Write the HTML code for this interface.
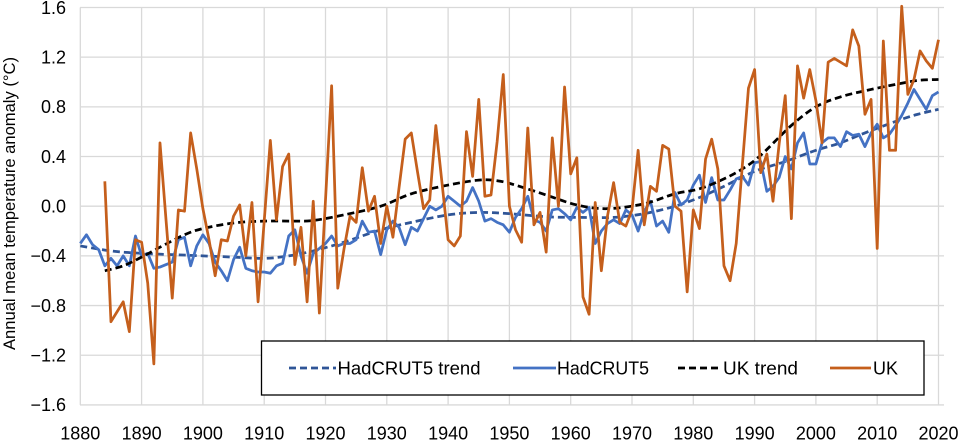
<!DOCTYPE html>
<html>
<head>
<meta charset="utf-8">
<style>
  html, body { margin: 0; padding: 0; background: #fff; }
  svg { display: block; }
  text { font-family: "Liberation Sans", Arial, sans-serif; fill: #000; }
</style>
</head>
<body>
<svg id="chart" width="960" height="440" viewBox="0 0 960 440" xmlns="http://www.w3.org/2000/svg">
  <rect x="0" y="0" width="960" height="440" fill="#fff"/>
  <g id="grid" stroke="#d9d9d9" stroke-width="1.3" fill="none"></g>
  <g id="series" fill="none"></g>

  <!-- Y tick labels -->
  <g font-size="18" text-anchor="end">
    <text x="66" y="13.8">1.6</text>
    <text x="66" y="63.5">1.2</text>
    <text x="66" y="113.1">0.8</text>
    <text x="66" y="162.8">0.4</text>
    <text x="66" y="212.5">0.0</text>
    <text x="66" y="262.2">−0.4</text>
    <text x="66" y="311.9">−0.8</text>
    <text x="66" y="361.5">−1.2</text>
    <text x="66" y="411.2">−1.6</text>
  </g>

  <!-- X tick labels -->
  <g font-size="18" text-anchor="middle">
    <text x="80.3" y="439.5">1880</text>
    <text x="141.6" y="439.5">1890</text>
    <text x="202.9" y="439.5">1900</text>
    <text x="264.2" y="439.5">1910</text>
    <text x="325.5" y="439.5">1920</text>
    <text x="386.8" y="439.5">1930</text>
    <text x="448.1" y="439.5">1940</text>
    <text x="509.4" y="439.5">1950</text>
    <text x="570.7" y="439.5">1960</text>
    <text x="632.0" y="439.5">1970</text>
    <text x="693.3" y="439.5">1980</text>
    <text x="754.6" y="439.5">1990</text>
    <text x="815.9" y="439.5">2000</text>
    <text x="877.2" y="439.5">2010</text>
    <text x="938.5" y="439.5">2020</text>
  </g>

  <!-- Y axis title -->
  <text font-size="16.5" text-anchor="middle" transform="translate(15,203.5) rotate(-90)" textLength="293" lengthAdjust="spacingAndGlyphs">Annual mean temperature anomaly (°C)</text>

  <!-- Legend -->
  <g id="legend">
    <rect x="261.5" y="341" width="662.5" height="54" fill="#fff" stroke="#000" stroke-width="1.3"/>
    <line x1="289" y1="368" x2="336" y2="368" stroke="#2f5597" stroke-width="2.75" stroke-dasharray="7,4"/>
    <text x="337.5" y="374.5" font-size="18.5" textLength="143" lengthAdjust="spacingAndGlyphs">HadCRUT5 trend</text>
    <line x1="513" y1="368" x2="556" y2="368" stroke="#4472c4" stroke-width="2.75"/>
    <text x="557" y="374.5" font-size="18.5" textLength="92" lengthAdjust="spacingAndGlyphs">HadCRUT5</text>
    <line x1="678" y1="368" x2="720" y2="368" stroke="#000" stroke-width="2.75" stroke-dasharray="7,4"/>
    <text x="723" y="374.5" font-size="18.5" textLength="75" lengthAdjust="spacingAndGlyphs">UK trend</text>
    <line x1="830" y1="368" x2="871" y2="368" stroke="#c55f1c" stroke-width="2.75"/>
    <text x="873" y="374.5" font-size="18.5" textLength="25" lengthAdjust="spacingAndGlyphs">UK</text>
  </g>
</svg>

<script>
(function(){
  var NS = "http://www.w3.org/2000/svg";
  var X0 = 80.3, DX = 6.13, Y0 = 206.2, SY = 124.2;
  function px(yr){ return X0 + (yr-1880)*DX; }
  function py(v){ return Y0 - v*SY; }

  var grid = document.getElementById('grid');
  for (var i=0;i<=8;i++){
    var v = 1.6 - i*0.4, y = py(v);
    var l = document.createElementNS(NS,'line');
    l.setAttribute('x1',80); l.setAttribute('x2',944);
    l.setAttribute('y1',y); l.setAttribute('y2',y);
    grid.appendChild(l);
  }
  for (var yr=1880; yr<=2020; yr+=10){
    var x = px(yr);
    var l2 = document.createElementNS(NS,'line');
    l2.setAttribute('x1',x); l2.setAttribute('x2',x);
    l2.setAttribute('y1',py(1.6)); l2.setAttribute('y2',py(-1.6));
    grid.appendChild(l2);
  }

  var had = [-0.30,-0.23,-0.31,-0.35,-0.48,-0.42,-0.48,-0.40,-0.48,-0.24,
    -0.40,-0.38,-0.50,-0.49,-0.47,-0.45,-0.27,-0.25,-0.48,-0.32,
    -0.23,-0.30,-0.45,-0.52,-0.60,-0.43,-0.33,-0.50,-0.52,-0.53,
    -0.53,-0.54,-0.48,-0.46,-0.24,-0.19,-0.40,-0.54,-0.38,-0.34,
    -0.30,-0.24,-0.32,-0.30,-0.30,-0.27,-0.12,-0.21,-0.20,-0.39,
    -0.19,-0.12,-0.17,-0.31,-0.17,-0.20,-0.10,0.00,-0.03,0.00,
    0.08,0.04,0.00,0.04,0.15,0.04,-0.12,-0.10,-0.13,-0.15,
    -0.21,-0.09,-0.02,0.08,-0.11,-0.13,-0.20,-0.03,-0.02,-0.06,
    -0.11,-0.01,-0.05,-0.01,-0.30,-0.20,-0.14,-0.11,-0.14,-0.03,
    -0.07,-0.20,-0.04,0.04,-0.16,-0.12,-0.21,0.11,0.01,0.05,
    0.17,0.25,0.03,0.23,0.05,0.05,0.13,0.22,0.24,0.17,
    0.35,0.36,0.12,0.16,0.23,0.40,0.30,0.51,0.59,0.34,
    0.34,0.51,0.55,0.55,0.48,0.60,0.57,0.58,0.48,0.59,
    0.66,0.55,0.58,0.65,0.73,0.83,0.94,0.86,0.78,0.89,0.92];

  var uk = [0.20,-0.93,-0.85,-0.77,-1.01,-0.27,
    -0.29,-0.62,-1.27,0.51,-0.12,-0.74,-0.03,-0.04,0.59,0.30,
    -0.02,-0.27,-0.56,-0.27,-0.28,-0.08,0.01,-0.40,0.03,-0.77,
    -0.12,0.53,-0.11,0.32,0.42,-0.47,-0.17,-0.77,0.04,-0.86,
    0.05,0.97,-0.66,-0.35,-0.08,-0.13,0.31,-0.04,0.08,-0.30,
    0.00,-0.25,0.15,0.54,0.59,0.28,-0.02,0.05,0.65,0.19,
    -0.27,-0.32,-0.24,0.60,0.24,0.86,0.08,0.09,0.52,1.06,
    0.00,-0.19,-0.29,0.63,-0.15,-0.05,-0.37,0.55,0.00,0.96,
    0.26,0.39,-0.73,-0.87,0.03,-0.52,-0.08,0.19,-0.13,-0.16,
    -0.03,0.45,-0.15,0.16,0.12,0.49,0.46,0.00,-0.04,-0.69,
    -0.03,-0.18,0.38,0.54,0.30,-0.48,-0.60,-0.30,0.33,0.95,
    1.10,0.27,0.42,0.04,0.50,0.89,-0.10,1.13,0.87,1.10,
    0.85,0.51,1.16,1.19,1.16,1.13,1.42,1.29,0.74,0.86,
    -0.34,1.33,0.45,0.45,1.61,0.90,1.02,1.25,1.17,1.11,1.34];

  var hadTrend = [[1880,-0.32],[1885,-0.36],[1890,-0.38],[1895,-0.39],[1900,-0.40],[1905,-0.41],
    [1910,-0.42],[1914,-0.40],[1918,-0.36],[1923,-0.29],[1929,-0.19],[1934,-0.13],[1940,-0.07],
    [1945,-0.05],[1950,-0.06],[1956,-0.085],[1961,-0.09],[1967,-0.09],[1972,-0.06],[1977,0.00],
    [1981,0.07],[1985,0.16],[1990,0.28],[1995,0.36],[2000,0.45],[2004,0.51],[2008,0.59],
    [2014,0.70],[2017,0.745],[2020,0.78]];

  var ukTrend = [[1884,-0.52],[1887,-0.48],[1890,-0.41],[1893,-0.33],[1897,-0.23],[1900,-0.18],
    [1905,-0.135],[1910,-0.12],[1915,-0.12],[1918,-0.115],[1923,-0.07],[1929,0.00],[1934,0.10],
    [1940,0.17],[1945,0.21],[1948,0.205],[1951,0.17],[1956,0.09],[1961,0.01],[1966,-0.02],
    [1972,0.02],[1977,0.10],[1981,0.14],[1985,0.22],[1988,0.30],[1991,0.41],[1996,0.65],
    [2000,0.80],[2004,0.88],[2009,0.94],[2014,0.99],[2017,1.015],[2020,1.02]];

  var g = document.getElementById('series');

  function smoothPath(pts){
    var p = pts.map(function(d){ return [px(d[0]), py(d[1])]; });
    var s = 'M' + p[0][0].toFixed(2) + ',' + p[0][1].toFixed(2);
    for (var i=0;i<p.length-1;i++){
      var p0 = p[i>0?i-1:i], p1 = p[i], p2 = p[i+1], p3 = p[i+2<p.length?i+2:i+1];
      var c1x = p1[0] + (p2[0]-p0[0])/6, c1y = p1[1] + (p2[1]-p0[1])/6;
      var c2x = p2[0] - (p3[0]-p1[0])/6, c2y = p2[1] - (p3[1]-p1[1])/6;
      s += 'C' + c1x.toFixed(2)+','+c1y.toFixed(2)+' '+c2x.toFixed(2)+','+c2y.toFixed(2)+' '+p2[0].toFixed(2)+','+p2[1].toFixed(2);
    }
    return s;
  }
  function addPath(d, color, dash){
    var e = document.createElementNS(NS,'path');
    e.setAttribute('d', d);
    e.setAttribute('stroke', color);
    e.setAttribute('stroke-width', '2.75');
    e.setAttribute('fill', 'none');
    e.setAttribute('stroke-linejoin', 'round');
    if (dash) e.setAttribute('stroke-dasharray', dash);
    g.appendChild(e);
  }
  function lineD(arr, startYr){
    var s = '';
    for (var i=0;i<arr.length;i++){
      s += (i? 'L':'M') + px(startYr+i).toFixed(2) + ',' + py(arr[i]).toFixed(2);
    }
    return s;
  }

  addPath(smoothPath(hadTrend), '#2f5597', '7,4');
  addPath(lineD(had, 1880), '#4472c4', null);
  addPath(smoothPath(ukTrend), '#000000', '7,4');
  addPath(lineD(uk, 1884), '#c55f1c', null);
})();
</script>
</body>
</html>
